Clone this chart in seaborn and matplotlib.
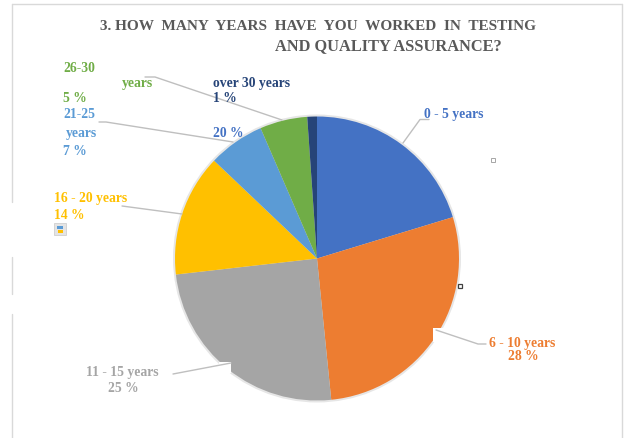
import matplotlib
matplotlib.use('Agg')
import matplotlib.pyplot as plt
import seaborn as sns
from matplotlib.patches import Rectangle, Circle

W, H = 626, 439

categories = ['0 - 5 years', '6 - 10 years', '11 - 15 years', '16 - 20 years', '21-25 years', '26-30 years', 'over 30 years']
# slice sizes as measured on the picture, the printed labels are rounded
slices = [20.3, 28.1, 24.8, 13.9, 6.4, 5.4, 1.1]
shares = [20, 28, 25, 14, 7, 5, 1]
colours = ['#4472C4', '#ED7D31', '#A5A5A5', '#FFC000', '#5B9BD5', '#70AD47', '#264478']
title_lines = ['3. HOW  MANY  YEARS  HAVE  YOU  WORKED  IN  TESTING', 'AND QUALITY ASSURANCE?']

def put(ax, x, y, txt, color, ha='left', size=9.8):
    # +1 because va=center sits a little high with this font
    ax.text(x, y+1, txt, color=color, ha=ha, va='center', fontsize=size, fontweight='bold')

if __name__ == "__main__":
    sns.set_theme(style='white')
    plt.rcParams['font.family'] = ['Liberation Serif', 'DejaVu Serif']
    pal = sns.color_palette(colours)

    fig = plt.figure(figsize=(W/100, H/100), dpi=100)

    # pie sits on its own axes, circle centre 317,259 r 142
    cx, cy, r = 317, 259.5, 142
    pie_ax = fig.add_axes([(cx-r)/W, 1-(cy+r)/H, 2*r/W, 2*r/H])
    pie_ax.add_patch(Circle((0, 0), 1.014, fc='#E6E6E6', ec='none', clip_on=False, zorder=0))
    pie_ax.pie(slices, colors=pal, startangle=90, counterclock=False, radius=1,
               wedgeprops={'linewidth': 0, 'zorder': 1})
    pie_ax.set_xlim(-1, 1)
    pie_ax.set_ylim(-1, 1)
    pie_ax.set_aspect('equal')

    # overlay in pixel coordinates for the frame, leaders and labels
    ax = fig.add_axes([0, 0, 1, 1], zorder=3)
    ax.set_xlim(0, W)
    ax.set_ylim(H, 0)
    ax.axis('off')
    ax.patch.set_alpha(0)

    frame = '#D9D9D9'
    ax.plot([12, 622], [5, 5], color=frame, lw=1)
    ax.plot([622, 622], [5, 439], color=frame, lw=1)
    ax.plot([12, 12], [5, 203], color=frame, lw=1)
    ax.plot([12, 12], [258, 295], color=frame, lw=1)
    ax.plot([12, 12], [315, 439], color=frame, lw=1)

    # white notches cut out of the pie edge
    ax.add_patch(Rectangle((433, 329), 13, 14, fc='white', ec='none'))
    ax.add_patch(Rectangle((219, 363), 12, 11, fc='white', ec='none'))

    put(ax, 317.5, 26, title_lines[0], '#595959', ha='center', size=11)
    put(ax, 388, 45, title_lines[1], '#595959', ha='center', size=11.8)

    # leaders
    lead = '#BFBFBF'
    ax.plot([403, 420, 429], [144, 120.5, 120.5], color=lead, lw=1)
    ax.plot([436, 478, 486], [331, 345, 345], color=lead, lw=1)
    ax.plot([173, 231], [375, 364], color=lead, lw=1)
    ax.plot([122, 182], [207, 215], color=lead, lw=1)
    ax.plot([99, 106, 233], [123, 123, 143], color=lead, lw=1)
    ax.plot([145, 155, 282], [78, 78, 121], color=lead, lw=1)

    # labels
    put(ax, 424, 114, categories[0], colours[0])
    put(ax, 522, 343, categories[1], colours[1], ha='center')
    put(ax, 523, 356, '%d %%' % shares[1], colours[1], ha='center')
    put(ax, 122, 372, categories[2], colours[2], ha='center')
    put(ax, 123, 388, '%d %%' % shares[2], colours[2], ha='center')
    put(ax, 54, 198, categories[3], colours[3])
    put(ax, 54, 215, '%d %%' % shares[3], colours[3])
    put(ax, 63, 114, '21-25', colours[4])
    put(ax, 66, 133, 'years', colours[4])
    put(ax, 63, 151, '%d %%' % shares[4], colours[4])
    put(ax, 63, 68, '26-30', colours[5])
    put(ax, 122, 83, 'years', colours[5])
    put(ax, 63, 98, '%d %%' % shares[5], colours[5])
    put(ax, 213, 82, categories[6], colours[6])
    put(ax, 213, 98, '%d %%' % shares[6], colours[6])
    put(ax, 213, 133, '%d %%' % shares[0], colours[0])

    # selection handles and the small icon left in the screenshot
    ax.add_patch(Rectangle((491, 159), 4, 4, fc='white', ec='#A6A6A6', lw=0.7))
    ax.add_patch(Rectangle((458, 285), 4, 4, fc='white', ec='#404040', lw=0.9))
    ax.add_patch(Rectangle((54, 224), 12, 12, fc='#E4E4E4', ec='#CFCFCF', lw=0.6))
    ax.add_patch(Rectangle((57, 227), 6, 3, fc='#5B9BD5', ec='none'))
    ax.add_patch(Rectangle((58, 231), 5, 3, fc='#FFC000', ec='none'))

    plt.savefig('out.png', dpi=100)
    plt.close()
